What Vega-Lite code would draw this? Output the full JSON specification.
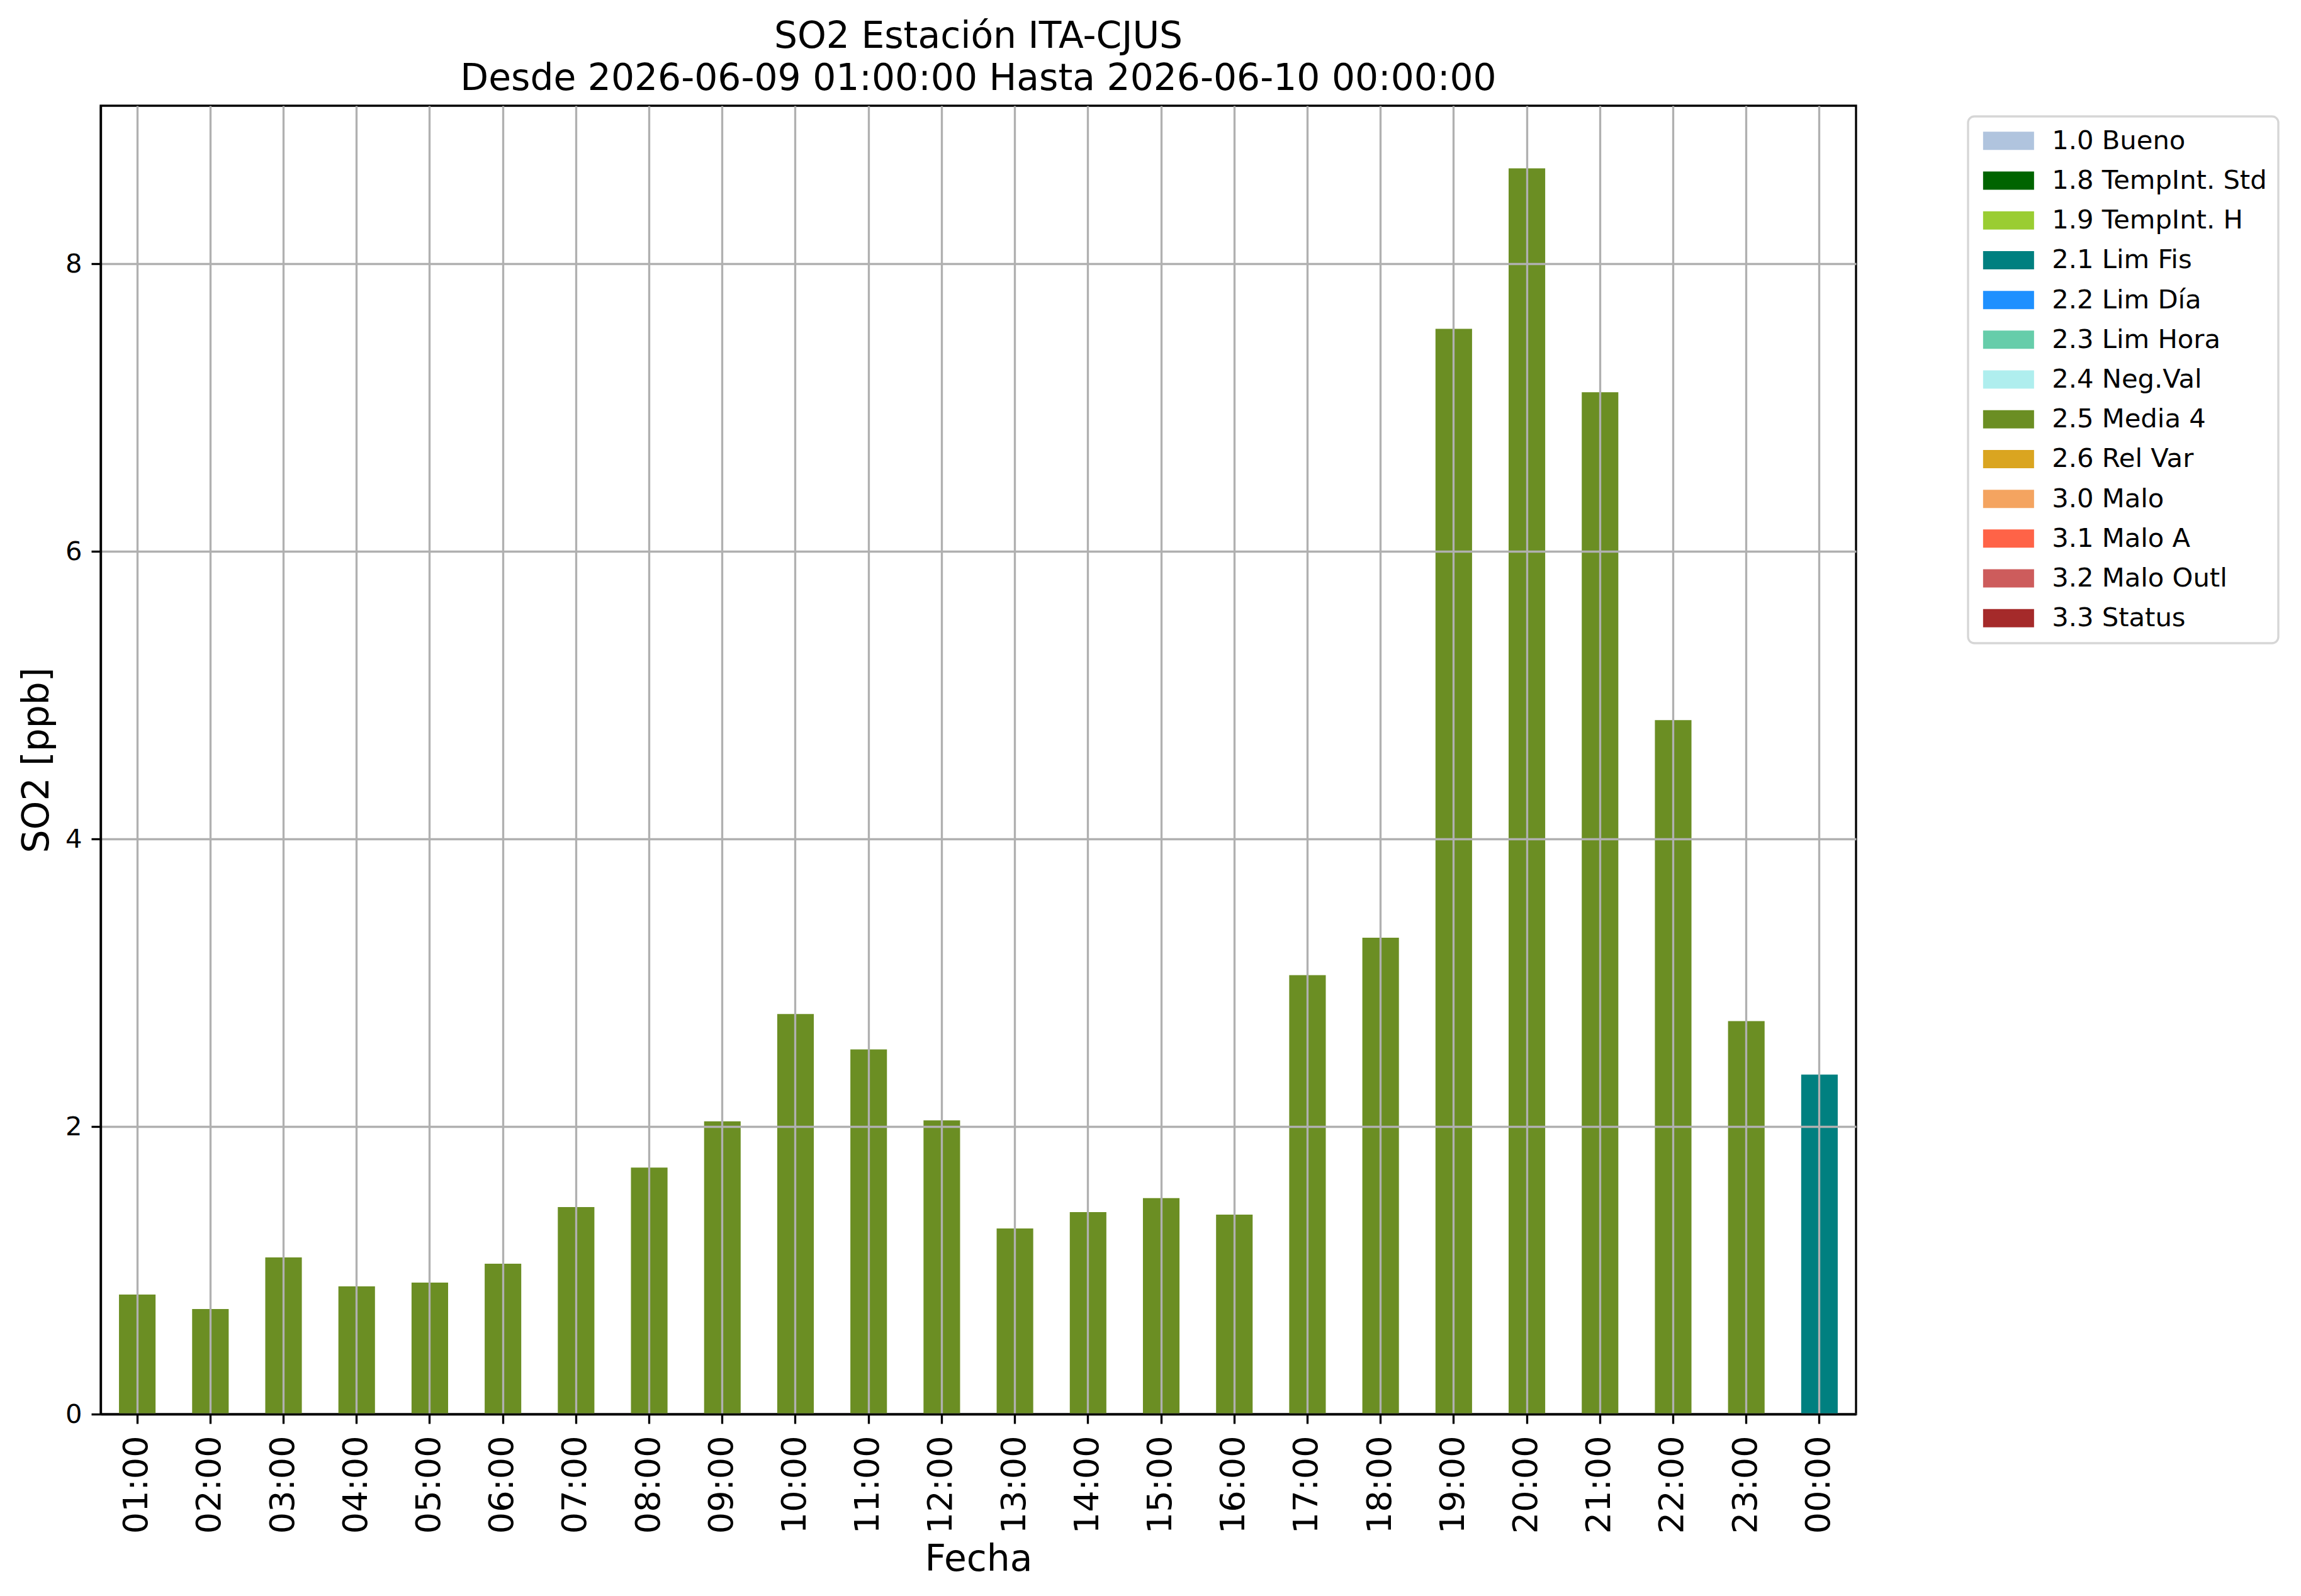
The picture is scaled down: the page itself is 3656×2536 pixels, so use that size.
{
  "$schema": "https://vega.github.io/schema/vega-lite/v6.json",
  "autosize": {"type": "none"},
  "width": 2789,
  "height": 2079,
  "padding": {"left": 160, "top": 168, "right": 707, "bottom": 289},
  "background": "white",
  "title": {
    "text": ["SO2 Estación ITA-CJUS", "Desde 2026-06-09 01:00:00 Hasta 2026-06-10 00:00:00"],
    "font": "DejaVu Sans",
    "fontSize": 58.3,
    "fontWeight": "normal",
    "color": "black",
    "lineHeight": 67,
    "offset": 13,
    "frame": "group",
    "anchor": "middle"
  },
  "config": {
    "view": {"stroke": "black", "strokeWidth": 3.33},
    "font": "DejaVu Sans",
    "legend": {
      "strokeColor": "#d6d6d6",
      "strokeWidth": 3.33,
      "cornerRadius": 10,
      "fillColor": "white",
      "padding": 18
    }
  },
  "data": {
    "values": [
      {"hora": "01:00", "so2": 0.832, "flag": "2.5 Media 4"},
      {"hora": "02:00", "so2": 0.731, "flag": "2.5 Media 4"},
      {"hora": "03:00", "so2": 1.090, "flag": "2.5 Media 4"},
      {"hora": "04:00", "so2": 0.889, "flag": "2.5 Media 4"},
      {"hora": "05:00", "so2": 0.915, "flag": "2.5 Media 4"},
      {"hora": "06:00", "so2": 1.046, "flag": "2.5 Media 4"},
      {"hora": "07:00", "so2": 1.440, "flag": "2.5 Media 4"},
      {"hora": "08:00", "so2": 1.715, "flag": "2.5 Media 4"},
      {"hora": "09:00", "so2": 2.036, "flag": "2.5 Media 4"},
      {"hora": "10:00", "so2": 2.783, "flag": "2.5 Media 4"},
      {"hora": "11:00", "so2": 2.537, "flag": "2.5 Media 4"},
      {"hora": "12:00", "so2": 2.043, "flag": "2.5 Media 4"},
      {"hora": "13:00", "so2": 1.291, "flag": "2.5 Media 4"},
      {"hora": "14:00", "so2": 1.405, "flag": "2.5 Media 4"},
      {"hora": "15:00", "so2": 1.502, "flag": "2.5 Media 4"},
      {"hora": "16:00", "so2": 1.388, "flag": "2.5 Media 4"},
      {"hora": "17:00", "so2": 3.053, "flag": "2.5 Media 4"},
      {"hora": "18:00", "so2": 3.313, "flag": "2.5 Media 4"},
      {"hora": "19:00", "so2": 7.548, "flag": "2.5 Media 4"},
      {"hora": "20:00", "so2": 8.664, "flag": "2.5 Media 4"},
      {"hora": "21:00", "so2": 7.107, "flag": "2.5 Media 4"},
      {"hora": "22:00", "so2": 4.827, "flag": "2.5 Media 4"},
      {"hora": "23:00", "so2": 2.733, "flag": "2.5 Media 4"},
      {"hora": "00:00", "so2": 2.361, "flag": "2.1 Lim Fis"}
    ]
  },
  "mark": {"type": "bar"},
  "encoding": {
    "x": {
      "field": "hora",
      "type": "nominal",
      "sort": null,
      "scale": {"paddingInner": 0.5, "paddingOuter": 0.25},
      "axis": {
        "title": "Fecha",
        "titleFont": "DejaVu Sans",
        "titleFontSize": 58.3,
        "titleFontWeight": "normal",
        "titleColor": "black",
        "titlePadding": 13,
        "labelFont": "DejaVu Sans",
        "labelFontSize": 54,
        "labelColor": "black",
        "labelAngle": 270,
        "labelPadding": 19,
        "labelLimit": 0,
        "bandPosition": 0.5,
        "ticks": true,
        "tickSize": 15,
        "tickWidth": 3.33,
        "tickColor": "black",
        "grid": true,
        "gridColor": "#b0b0b0",
        "gridWidth": 3.33,
        "domain": true,
        "domainColor": "black",
        "domainWidth": 3.33,
        "zindex": 1
      }
    },
    "y": {
      "field": "so2",
      "type": "quantitative",
      "scale": {"domain": [0, 9.1], "nice": false, "zero": true},
      "axis": {
        "title": "SO2 [ppb]",
        "titleFont": "DejaVu Sans",
        "titleFontSize": 58.3,
        "titleFontWeight": "normal",
        "titleColor": "black",
        "titlePadding": 15,
        "values": [0, 2, 4, 6, 8],
        "format": "d",
        "labelFont": "DejaVu Sans",
        "labelFontSize": 41.7,
        "labelColor": "black",
        "labelPadding": 15,
        "tickSize": 15,
        "tickWidth": 3.33,
        "tickColor": "black",
        "grid": true,
        "gridColor": "#b0b0b0",
        "gridWidth": 3.33,
        "domain": true,
        "domainColor": "black",
        "domainWidth": 3.33,
        "zindex": 1
      }
    },
    "color": {
      "field": "flag",
      "type": "nominal",
      "scale": {
        "domain": ["1.0 Bueno", "1.8 TempInt. Std", "1.9 TempInt. H", "2.1 Lim Fis", "2.2 Lim Día", "2.3 Lim Hora", "2.4 Neg.Val", "2.5 Media 4", "2.6 Rel Var", "3.0 Malo", "3.1 Malo A", "3.2 Malo Outl", "3.3 Status"],
        "range": ["#b0c4de", "#006400", "#9acd32", "#008080", "#1e90ff", "#66cdaa", "#afeeee", "#6b8e23", "#daa520", "#f4a460", "#ff6347", "#cd5c5c", "#a52a2a"]
      },
      "legend": {
        "title": null,
        "orient": "none",
        "legendX": 2967,
        "legendY": 17,
        "symbolType": "M-2.7,-0.9667H2.7V0.9667H-2.7Z",
        "symbolSize": 900,
        "symbolStrokeWidth": 0,
        "symbolOpacity": 1,
        "symbolOffset": 25.5,
        "labelFont": "DejaVu Sans",
        "labelFontSize": 41.7,
        "labelColor": "black",
        "labelLimit": 0,
        "labelOffset": 48,
        "rowPadding": 20.2
      }
    }
  }
}
